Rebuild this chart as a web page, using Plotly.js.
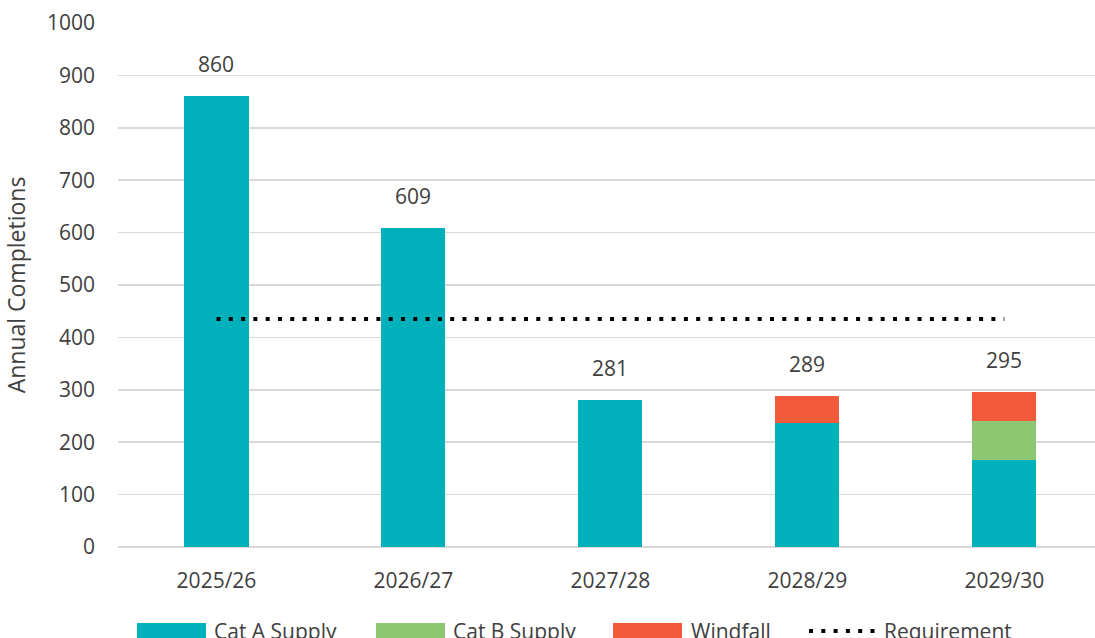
<!DOCTYPE html>
<html>
<head>
<meta charset="utf-8">
<script src="https://cdn.plot.ly/plotly-3.0.1.min.js"></script>
<style>
html,body{margin:0;padding:0;background:#fff;overflow:hidden;}
#chart{width:1095px;height:638px;}
</style>
</head>
<body>
<div id="chart"></div>
<script>
const categories = ['2025/26', '2026/27', '2027/28', '2028/29', '2029/30'];
const catA = [860, 609, 281, 236, 166];
const catB = [0, 0, 0, 0, 75];
const windfall = [0, 0, 0, 53, 54];
const totals = [860, 609, 281, 289, 295];
const requirementX = ['2025/26', '2029/30'];
const requirementY = [435, 435];
const seriesNames = ['Cat A Supply', 'Cat B Supply', 'Windfall', 'Requirement'];
const seriesColors = ['#00B1BB', '#8DC772', '#F15A3A', '#000000'];

const font = 'Open Sans, Noto Sans, sans-serif';
const textColor = '#404040';

// layout geometry (pixels)
const W = 1095, H = 638, L = 118, R = 0, T = 23, B = 91;
const pw = W - L - R, ph = H - T - B;
const px = v => (v - L) / pw;
const py = v => (H - B - v) / ph;

const dash = '4px,8.3px';

const traces = [
  {type: 'bar', name: seriesNames[0], x: categories, y: catA, marker: {color: seriesColors[0]}, hoverinfo: 'y'},
  {type: 'bar', name: seriesNames[1], x: categories, y: catB, marker: {color: seriesColors[1]}, hoverinfo: 'y'},
  {type: 'bar', name: seriesNames[2], x: categories, y: windfall, marker: {color: seriesColors[2]}, hoverinfo: 'y'},
  {type: 'scatter', mode: 'lines', name: seriesNames[3], x: requirementX, y: requirementY,
   line: {color: seriesColors[3], width: 4, dash: dash}}
];

const annotations = categories.map((c, i) => ({
  x: c, y: totals[i], text: String(totals[i]), showarrow: false,
  yanchor: 'bottom', yshift: 16, font: {family: font, size: 21, color: textColor}
}));

// custom legend (wide swatches like the original)
const legendSwatchX = [137, 376, 613];
const legendTextX = [212, 451, 689];
const shapes = [];
for (let i = 0; i < 3; i++) {
  shapes.push({type: 'rect', xref: 'paper', yref: 'paper',
    x0: px(legendSwatchX[i]), x1: px(legendSwatchX[i] + 69), y0: py(638), y1: py(623),
    fillcolor: seriesColors[i], line: {width: 0}});
  annotations.push({xref: 'paper', yref: 'paper', x: px(legendTextX[i]), y: py(631),
    xanchor: 'left', yanchor: 'middle', text: seriesNames[i], showarrow: false,
    font: {family: font, size: 21, color: textColor}});
}
shapes.push({type: 'line', xref: 'paper', yref: 'paper',
  x0: px(809), x1: px(878), y0: py(631), y1: py(631),
  line: {color: '#000000', width: 4, dash: dash}});
annotations.push({xref: 'paper', yref: 'paper', x: px(882), y: py(631),
  xanchor: 'left', yanchor: 'middle', text: seriesNames[3], showarrow: false,
  font: {family: font, size: 21, color: textColor}});

const layout = {
  width: W, height: H,
  margin: {l: L, r: R, t: T, b: B, autoexpand: false},
  barmode: 'stack',
  bargap: 0.675,
  paper_bgcolor: '#ffffff', plot_bgcolor: '#ffffff',
  font: {family: font, color: textColor},
  showlegend: false,
  xaxis: {type: 'category', range: [-0.5, 4.46], showgrid: false, zeroline: false, showline: false,
          automargin: false, ticks: '', ticklabelstandoff: 19,
          tickfont: {family: font, size: 21, color: textColor}},
  yaxis: {range: [0, 1000], dtick: 100, showgrid: true, gridcolor: '#D9D9D9', gridwidth: 1.5,
          zeroline: true, zerolinecolor: '#D9D9D9', zerolinewidth: 1.5, showline: false,
          automargin: false, ticklabelstandoff: 22,
          tickfont: {family: font, size: 21, color: textColor},
          title: {text: 'Annual Completions', font: {family: font, size: 23, color: textColor}, standoff: 14}},
  annotations: annotations,
  shapes: shapes
};

Plotly.newPlot('chart', traces, layout, {displayModeBar: false, staticPlot: true});
</script>
</body>
</html>
